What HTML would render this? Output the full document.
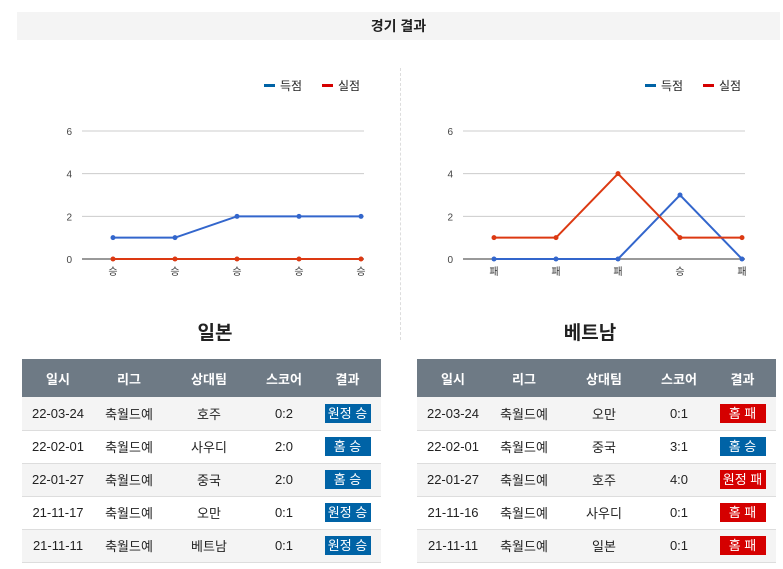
<!DOCTYPE html>
<html><head><meta charset="utf-8">
<style>
*{margin:0;padding:0;box-sizing:border-box}
body{width:783px;height:569px;background:#fff;font-family:"Liberation Sans","Noto Sans CJK KR",sans-serif;position:relative;overflow:hidden;color:#222}
.title{position:absolute;left:17px;top:12px;width:763px;height:28px;background:#f4f4f4;text-align:center;line-height:28px;font-size:14px;font-weight:bold;color:#222}
.divider{position:absolute;left:400px;top:68px;height:272px;border-left:1px dashed #ddd}
.team{position:absolute;top:318px;font-size:19px;font-weight:bold;width:200px;text-align:center}
table{position:absolute;top:359px;width:359px;border-collapse:collapse;font-size:13px}
th{background:#6e7a85;color:#fff;height:38px;font-weight:bold}
td{height:33px;text-align:center;border-bottom:1px solid #ddd}
tr:nth-child(even) td{background:#f4f4f4}
.b{display:inline-block;width:46px;height:19px;line-height:19px;color:#fff;font-size:13px}
.w{background:#0063a6}.l{background:#d50000}
svg{position:absolute;left:0;top:0}
</style></head><body>
<div class="title">경기 결과</div>
<div class="divider"></div>
<svg id="chart" width="783" height="300"></svg>
<div class="team" style="left:115px">일본</div>
<div class="team" style="left:490px">베트남</div>

<table style="left:22px">
<colgroup><col style="width:72px"><col style="width:70px"><col style="width:90px"><col style="width:60px"><col style="width:67px"></colgroup>
<tr><th>일시</th><th>리그</th><th>상대팀</th><th>스코어</th><th>결과</th></tr>
<tr><td>22-03-24</td><td>축월드예</td><td>호주</td><td>0:2</td><td><span class="b w">원정 승</span></td></tr>
<tr><td>22-02-01</td><td>축월드예</td><td>사우디</td><td>2:0</td><td><span class="b w">홈 승</span></td></tr>
<tr><td>22-01-27</td><td>축월드예</td><td>중국</td><td>2:0</td><td><span class="b w">홈 승</span></td></tr>
<tr><td>21-11-17</td><td>축월드예</td><td>오만</td><td>0:1</td><td><span class="b w">원정 승</span></td></tr>
<tr><td>21-11-11</td><td>축월드예</td><td>베트남</td><td>0:1</td><td><span class="b w">원정 승</span></td></tr>
</table>
<table style="left:417px">
<colgroup><col style="width:72px"><col style="width:70px"><col style="width:90px"><col style="width:60px"><col style="width:67px"></colgroup>
<tr><th>일시</th><th>리그</th><th>상대팀</th><th>스코어</th><th>결과</th></tr>
<tr><td>22-03-24</td><td>축월드예</td><td>오만</td><td>0:1</td><td><span class="b l">홈 패</span></td></tr>
<tr><td>22-02-01</td><td>축월드예</td><td>중국</td><td>3:1</td><td><span class="b w">홈 승</span></td></tr>
<tr><td>22-01-27</td><td>축월드예</td><td>호주</td><td>4:0</td><td><span class="b l">원정 패</span></td></tr>
<tr><td>21-11-16</td><td>축월드예</td><td>사우디</td><td>0:1</td><td><span class="b l">홈 패</span></td></tr>
<tr><td>21-11-11</td><td>축월드예</td><td>일본</td><td>0:1</td><td><span class="b l">홈 패</span></td></tr>
</table>

<script>
const yTicks=[0,2,4,6];
const seriesNames=["득점","실점"];
const japanLabels=["승","승","승","승","승"];
const japanScored=[1,1,2,2,2];
const japanConceded=[0,0,0,0,0];
const vietLabels=["패","패","패","승","패"];
const vietScored=[0,0,0,3,0];
const vietConceded=[1,1,4,1,1];

const NS="http://www.w3.org/2000/svg";
const svg=document.getElementById('chart');
function mk(t,a,parent){const e=document.createElementNS(NS,t);for(const k in a)e.setAttribute(k,a[k]);(parent||svg).appendChild(e);return e;}
const BLUE="#3366cc",RED="#dc3912";
function drawChart(x0,x1,labels,scored,conceded,name){
  const g=mk('g',{});
  
  
  const yB=259,yT=131,ymax=6;
  const ys=v=>yB-(v/ymax)*(yB-yT);
  const n=labels.length,pl=x0+31,pr=x1-3;
  const xs=i=>pl+i*(pr-pl)/(n-1);
  yTicks.forEach(t=>{
    const ln=mk('line',{x1:x0,x2:x1,y1:ys(t),y2:ys(t),stroke:t===0?'#333':'#ccc','stroke-width':1},g);
    
    
    const tx=mk('text',{x:x0-10,y:ys(t)+4,'text-anchor':'end','font-size':10,fill:'#444'},g);
    tx.textContent=t;
    
    
  });
  labels.forEach((l,i)=>{
    const tx=mk('text',{x:xs(i),y:275,'text-anchor':'middle','font-size':10,fill:'#333'},g);
    tx.textContent=l;
    
    
  });
  [[scored,BLUE,'scored'],[conceded,RED,'conceded']].forEach(([d,c,nm])=>{
    const pl2=mk('polyline',{points:d.map((v,i)=>xs(i)+','+ys(v)).join(' '),fill:'none',stroke:c,'stroke-width':2},g);
    
    
    d.forEach((v,i)=>{
      const p=mk('circle',{cx:xs(i),cy:ys(v),r:2.5,fill:c},g);
      
      
    });
  });
  // legend
  const lx=x1-100;
  [[BLUE,seriesNames[0],0],[RED,seriesNames[1],58]].forEach(([c,t,o])=>{
    const r=mk('rect',{x:lx+o,y:84,width:11,height:3,fill:c==BLUE?'#0063a6':'#d50000'},g);
    
    
    const tx=mk('text',{x:lx+o+16,y:90,'font-size':12,fill:'#222'},g);
    tx.textContent=t;
    
    
  });
}
drawChart(82,364,japanLabels,japanScored,japanConceded,'japan-chart');
drawChart(463,745,vietLabels,vietScored,vietConceded,'vietnam-chart');
</script>
</body></html>
